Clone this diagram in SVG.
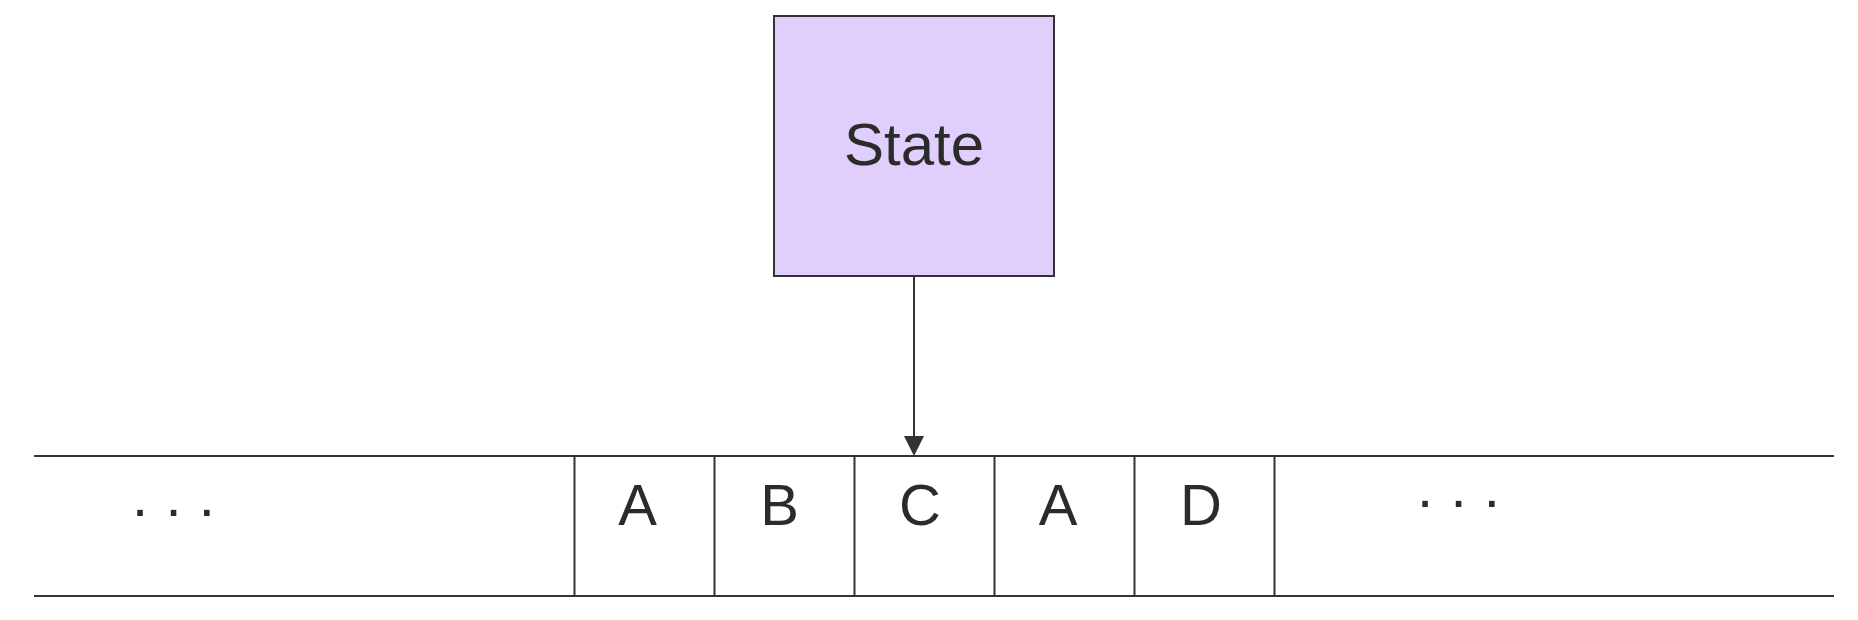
<svg xmlns="http://www.w3.org/2000/svg" width="1858" height="620" viewBox="0 0 1858 620">
<style>
.ln{stroke:#333333;stroke-width:2;fill:none}
.lbl{font-family:"Liberation Sans",Arial,sans-serif;font-size:58px;fill:#2b2b2b}
.dots{letter-spacing:0.6px}
</style>
<rect width="1858" height="620" fill="#ffffff"/>
<g id="state">
<rect x="774" y="16" width="280" height="260" fill="#e0cffc" stroke="#333333" stroke-width="2"/>
<text class="lbl" x="914" y="165" text-anchor="middle" style="font-size:60px">State</text>
</g>
<g id="tape">
<line class="ln" x1="34" y1="456" x2="1834" y2="456"/>
<line class="ln" x1="34" y1="596" x2="1834" y2="596"/>
<line class="ln" x1="574.5" y1="456" x2="574.5" y2="596"/>
<line class="ln" x1="714.5" y1="456" x2="714.5" y2="596"/>
<line class="ln" x1="854.5" y1="456" x2="854.5" y2="596"/>
<line class="ln" x1="994.5" y1="456" x2="994.5" y2="596"/>
<line class="ln" x1="1134.5" y1="456" x2="1134.5" y2="596"/>
<line class="ln" x1="1274.5" y1="456" x2="1274.5" y2="596"/>
<text class="lbl dots" x="132" y="515.5">. . .</text>
<text class="lbl" x="637.5" y="525" text-anchor="middle">A</text>
<text class="lbl" x="779.5" y="525" text-anchor="middle">B</text>
<text class="lbl" x="920" y="525" text-anchor="middle">C</text>
<text class="lbl" x="1058" y="525" text-anchor="middle">A</text>
<text class="lbl" x="1201" y="525" text-anchor="middle">D</text>
<text class="lbl dots" x="1417" y="506.5">. . .</text>
</g>
<g id="connectors">
<line class="ln" x1="914" y1="276" x2="914" y2="438"/>
<polygon points="904,436 924,436 914,456" fill="#333333"/>
</g>
</svg>
